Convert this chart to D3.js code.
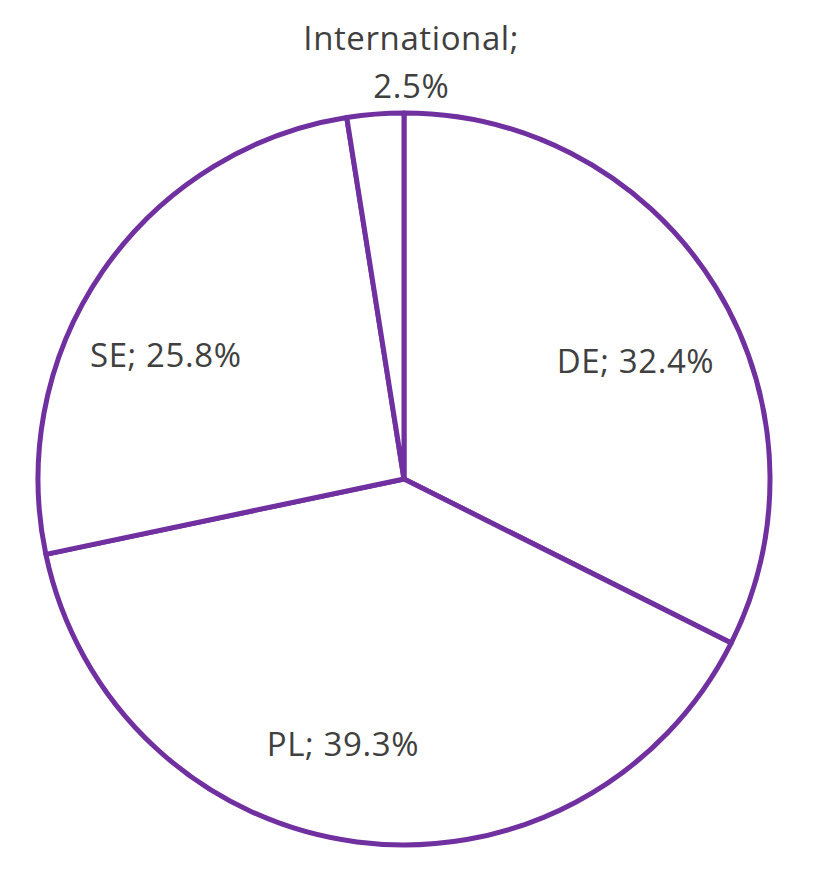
<!DOCTYPE html>
<html>
<head>
<meta charset="utf-8">
<script src="https://cdn.jsdelivr.net/npm/d3@7"></script>
<style>
  html, body { margin: 0; padding: 0; background: #fff; }
  svg { display: block; }
</style>
</head>
<body>
<svg id="chart" width="838" height="874"></svg>
<script>
// Data
const categories = ["DE", "PL", "SE", "International"];
const values = [32.4, 39.3, 25.8, 2.5];

const W = 838, H = 874;
const cx = 404, cy = 479, R = 366;
// label layout nudges (pixels), separate from data
const labelNudge = { DE: [6, 22], PL: [-27, 3], SE: [-20, 27], International: [0, 0] };

const svg = d3.select("#chart");
const g = svg.append("g").attr("transform", `translate(${cx},${cy})`);

const pie = d3.pie().sort(null).value(d => d.v).startAngle(0).endAngle(2 * Math.PI);
const arcs = pie(categories.map((c, i) => ({ c, v: values[i] })));
const arc = d3.arc().innerRadius(0).outerRadius(R);

g.selectAll("path.slice")
  .data(arcs)
  .enter().append("path")
  .attr("class", "slice")
  .attr("d", arc)
  .attr("fill", "#ffffff")
  .attr("stroke", "#7030a0")
  .attr("stroke-width", 5)
  .attr("stroke-linejoin", "round");

const fmt = v => v.toFixed(1) + "%";
const labelArc = d3.arc().innerRadius(265).outerRadius(265);
const text = g.selectAll("text.lbl")
  .data(arcs)
  .enter().append("text")
  .attr("class", "lbl")
  .attr("font-family", "'Open Sans', sans-serif")
  .attr("font-size", 33)
  .attr("letter-spacing", 0.6)
  .attr("fill", "#404040")
  .attr("text-anchor", "middle");

text.each(function(d) {
  const t = d3.select(this);
  const label = d.data.c + "; " + fmt(d.data.v);
  const [nx, ny] = labelNudge[d.data.c] || [0, 0];
  if (d.data.v < 5) {
    // small slice: label outside, two lines
    const mid = (d.startAngle + d.endAngle) / 2;
    const r = R + 52;
    const x = Math.sin(mid) * r + 40;
    const y = -Math.cos(mid) * r;
    t.append("tspan").attr("x", x).attr("y", y - 24).attr("dy", "0.35em").text(d.data.c + ";");
    t.append("tspan").attr("x", x).attr("y", y + 24).attr("dy", "0.35em").text(fmt(d.data.v));
  } else {
    const [x, y] = labelArc.centroid(d);
    t.attr("x", x + nx).attr("y", y + ny).attr("dy", "0.35em").text(label);
  }
});
</script>
</body>
</html>
